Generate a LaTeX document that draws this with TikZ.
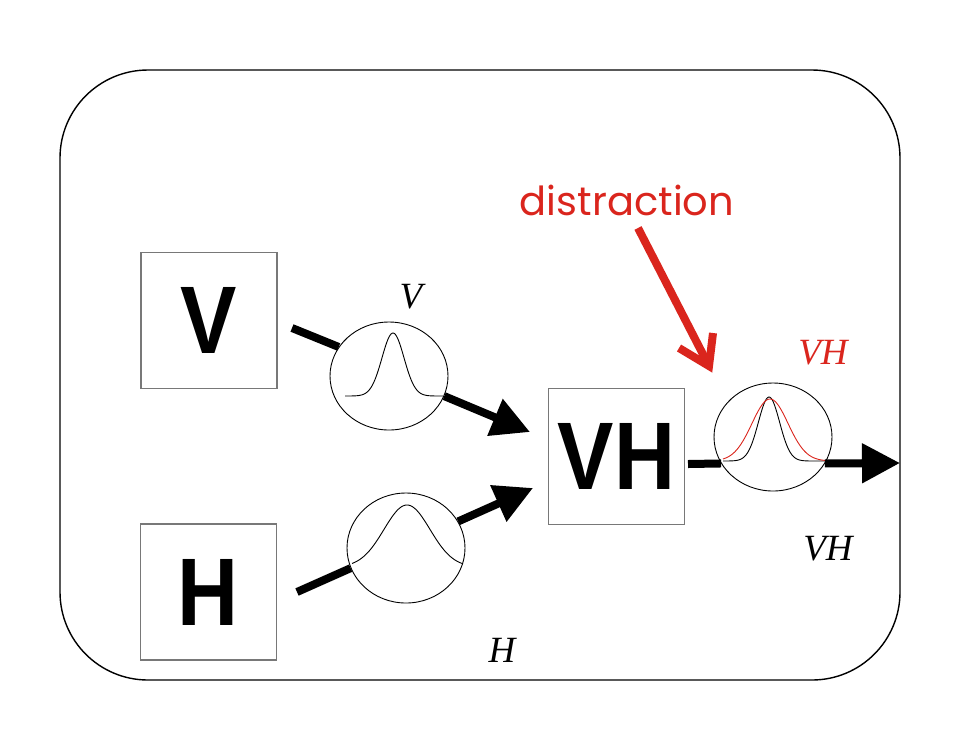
\documentclass[tikz,border=0pt]{standalone}
\usepackage{graphicx}
\usepackage{fontspec}
\setmainfont{Liberation Serif}
\newfontfamily\boxfont{Liberation Sans}
\newfontfamily\distfont{Poppins}
\usetikzlibrary{arrows.meta,shapes.geometric}
\definecolor{dred}{RGB}{218,37,29}
\definecolor{boxgray}{RGB}{120,120,120}
\begin{document}
\begin{tikzpicture}[x=1pt,y=-1pt,
  letterbox/.style={draw=boxgray, line width=1.2pt, minimum width=136pt, minimum height=136pt, inner sep=0pt, font=\boxfont\bfseries\fontsize{96}{96}\selectfont},
  tuning/.style={ellipse, draw, line width=0.9pt, minimum width=118pt, minimum height=108pt, inner sep=0pt},
  flow/.style={line width=8pt},
  flowtip/.style={line width=8pt, -{Triangle[length=38pt,width=38pt]}},
  curve/.style={line width=0.9pt},
  lbl/.style={font=\fontsize{37}{37}\selectfont\itshape, inner sep=0pt},
]
\useasboundingbox (0,0) rectangle (955,740);
\draw[line width=1.4pt, rounded corners=88pt] (60,70) rectangle (900,680);

% letter boxes
\node[letterbox] (V) at (209,320.5) {\scalebox{0.88}[1]{V}};
\node[letterbox] (H) at (208.5,592) {\scalebox{0.88}[1]{H}};
\node[letterbox] (VH) at (616.5,456.5) {\scalebox{0.88}[1]{VH}};

% tuning circles
\node[tuning] (cV) at (389,376) {};
\node[tuning, minimum height=110pt] (cH) at (406,548) {};
\node[tuning] (cVH) at (773,437) {};

% tuning curves
\draw[curve] plot[domain=345:443, samples=90] (\x, {396-63*exp(-0.5*pow((\x-393)/11,2))});
\draw[curve] plot[domain=352:463, samples=90] (\x, {567-62*exp(-0.5*pow((\x-407)/23,2))});
\draw[curve] plot[domain=723:827, samples=90] (\x, {461-64*exp(-0.5*pow((\x-769)/10.6,2))});
\draw[curve, dred] plot[domain=723:827, samples=90] (\x, {461-62*exp(-0.5*pow((\x-770)/18,2))});

% flow arrows
\coordinate (vs) at (292,328);
\coordinate (vt) at (530,432);
\draw[flow] (vs) -- (cV.150);
\draw[flowtip] (cV.-20) -- (vt);

\coordinate (hs) at (297,592);
\coordinate (ht) at (533,488);
\draw[flow] (hs) -- (cH.200);
\draw[flowtip] (cH.27) -- (ht);

\coordinate (vhs) at (688,464);
\coordinate (vht) at (900,463);
\draw[flow] (vhs) -- (cVH.207);
\draw[flowtip] (cVH.-27) -- (vht);

% distraction
\node[text=dred, font=\distfont\fontsize{40}{40}\selectfont, anchor=base] (dist) at (627,215) {distraction};
\coordinate (ds) at (638,228);
\coordinate (dt) at (709,366);
\coordinate (da) at (679,348);
\coordinate (db) at (713,333);
\draw[dred, line width=8pt] (ds) -- (dt);
\draw[dred, line width=8pt, line join=miter] (da) -- (dt) -- (db);

% labels
\node[lbl] (lV) at (411,297) {V};
\node[lbl, text=dred] (lVHr) at (823,353) {VH};
\node[lbl] (lVH) at (828,549) {VH};
\node[lbl] (lH) at (502,650) {H};
\end{tikzpicture}
\end{document}
